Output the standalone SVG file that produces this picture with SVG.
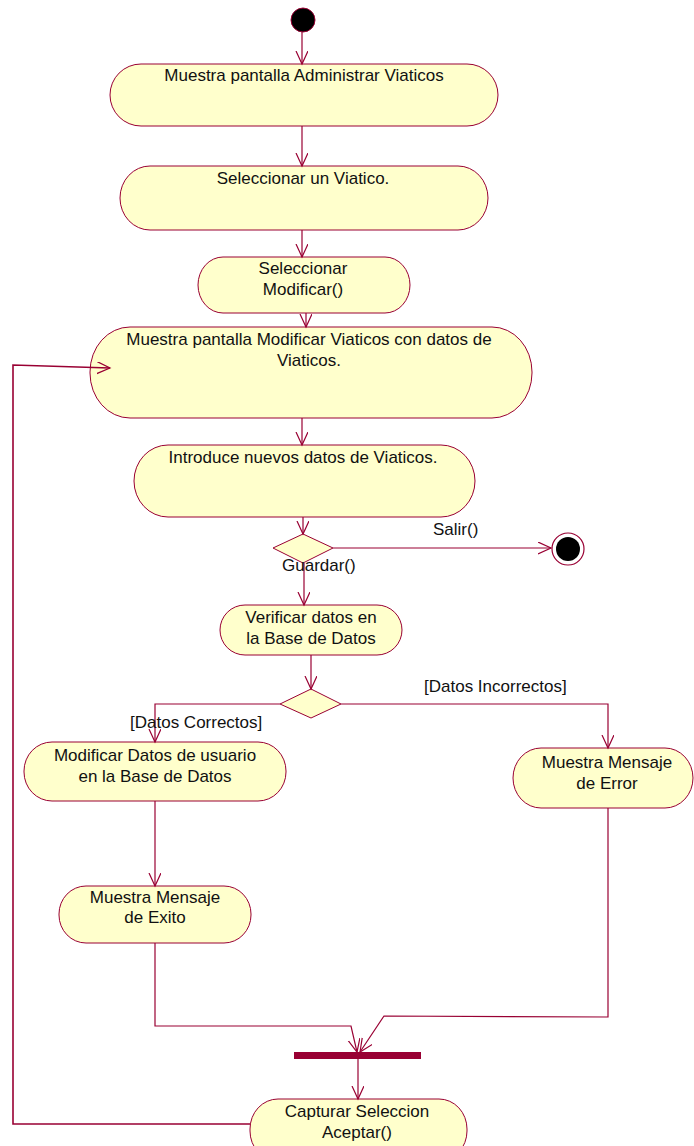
<svg xmlns="http://www.w3.org/2000/svg" width="694" height="1146" viewBox="0 0 694 1146">
  <style>
    .act { fill: #FFFFCC; stroke: #990033; stroke-width: 1; }
    .lbl { font-family: "Liberation Sans", Arial, sans-serif; font-size: 17px; fill: #111; }
    .c { text-anchor: middle; }
    .flow { fill: none; stroke: #990033; stroke-width: 1.2; marker-end: url(#arrow); }
    .dec { fill: #FFFFCC; stroke: #990033; stroke-width: 1; }
  </style>
  <defs>
    <marker id="arrow" markerUnits="userSpaceOnUse" markerWidth="16" markerHeight="14" refX="13" refY="6" orient="auto">
      <path d="M0,0 L13,6 L0,12" fill="none" stroke="#990033" stroke-width="1.2"/>
    </marker>
  </defs>

  <rect width="694" height="1146" fill="#fff"/>

  <!-- initial state -->
  <g id="start">
    <circle cx="303" cy="20" r="12" fill="#000" stroke="#990033" stroke-width="1"/>
  </g>

  <g id="n1">
    <rect class="act" x="110" y="64" width="388" height="62" rx="31" ry="31"/>
    <text class="lbl c" x="304" y="81">Muestra pantalla Administrar Viaticos</text>
  </g>

  <g id="n2">
    <rect class="act" x="120" y="166" width="368" height="64" rx="30" ry="32"/>
    <text class="lbl c" x="303" y="184">Seleccionar un Viatico.</text>
  </g>

  <g id="n3">
    <rect class="act" x="198" y="257" width="212" height="56" rx="25" ry="28"/>
    <text class="lbl c" x="303" y="274">Seleccionar</text>
    <text class="lbl c" x="303" y="295">Modificar()</text>
  </g>

  <g id="n4">
    <rect class="act" x="90" y="327" width="442" height="91" rx="40" ry="45"/>
    <text class="lbl c" x="309" y="345">Muestra pantalla Modificar Viaticos con datos de</text>
    <text class="lbl c" x="309" y="366">Viaticos.</text>
  </g>

  <g id="n5">
    <rect class="act" x="134" y="445" width="341" height="72" rx="34" ry="36"/>
    <text class="lbl c" x="303" y="463">Introduce nuevos datos de Viaticos.</text>
  </g>

  <g id="d1">
    <polygon class="dec" points="273,548 303,534 333,548 303,563"/>
  </g>

  <!-- final state -->
  <g id="end">
    <circle cx="568" cy="549" r="16" fill="#fff" stroke="#990033" stroke-width="1.2"/>
    <circle cx="568" cy="549" r="12" fill="#000"/>
  </g>

  <g id="n6">
    <rect class="act" x="220" y="605" width="182" height="50" rx="25" ry="25"/>
    <text class="lbl c" x="311" y="623">Verificar datos en</text>
    <text class="lbl c" x="311" y="644">la Base de Datos</text>
  </g>

  <g id="d2">
    <polygon class="dec" points="280,704 311,689 341,704 311,718"/>
  </g>

  <g id="n7">
    <rect class="act" x="24" y="742" width="262" height="59" rx="28" ry="29"/>
    <text class="lbl c" x="155" y="761">Modificar Datos de usuario</text>
    <text class="lbl c" x="155" y="782">en la Base de Datos</text>
  </g>

  <g id="n8">
    <rect class="act" x="513" y="748" width="180" height="60" rx="28" ry="30"/>
    <text class="lbl c" x="607" y="768">Muestra Mensaje</text>
    <text class="lbl c" x="607" y="789">de Error</text>
  </g>

  <g id="n9">
    <rect class="act" x="59" y="886" width="192" height="57" rx="27" ry="28"/>
    <text class="lbl c" x="155" y="903">Muestra Mensaje</text>
    <text class="lbl c" x="155" y="923">de Exito</text>
  </g>

  <!-- synchronization bar -->
  <g id="join">
    <rect x="294" y="1052" width="127" height="7" fill="#990033"/>
  </g>

  <g id="n10">
    <rect class="act" x="250" y="1099" width="217" height="62" rx="28" ry="30"/>
    <text class="lbl c" x="357" y="1117">Capturar Seleccion</text>
    <text class="lbl c" x="357" y="1138">Aceptar()</text>
  </g>

  <!-- connectors, drawn last so the loop-back arrowhead shows inside its target -->
  <g id="connectors">
    <line class="flow" x1="302" y1="32" x2="302" y2="64"/>
    <line class="flow" x1="302" y1="126" x2="302" y2="166"/>
    <line class="flow" x1="302" y1="230" x2="302" y2="257"/>
    <line class="flow" x1="306" y1="313" x2="306" y2="327"/>
    <line class="flow" x1="302" y1="418" x2="302" y2="445"/>
    <line class="flow" x1="303" y1="517" x2="303" y2="534"/>
    <line class="flow" x1="333" y1="548" x2="551" y2="548"/>
    <line class="flow" x1="304" y1="563" x2="304" y2="605"/>
    <line class="flow" x1="311" y1="655" x2="311" y2="689"/>
    <polyline class="flow" points="280,704 155,704 155,742"/>
    <polyline class="flow" points="341,704 608,704 608,748"/>
    <line class="flow" x1="155" y1="801" x2="155" y2="886"/>
    <polyline class="flow" points="155,943 155,1026 351,1026 357,1052"/>
    <polyline class="flow" points="608,808 608,1017 384,1016 360,1052"/>
    <line class="flow" x1="358" y1="1059" x2="358" y2="1099"/>
    <polyline class="flow" points="250,1124 13,1124 13,365 110,368" style="stroke-width:1.6"/>
    <text class="lbl" x="433" y="535">Salir()</text>
    <text class="lbl" x="282" y="571">Guardar()</text>
    <text class="lbl" x="424" y="692">[Datos Incorrectos]</text>
    <text class="lbl" x="130" y="728">[Datos Correctos]</text>
  </g>
</svg>
